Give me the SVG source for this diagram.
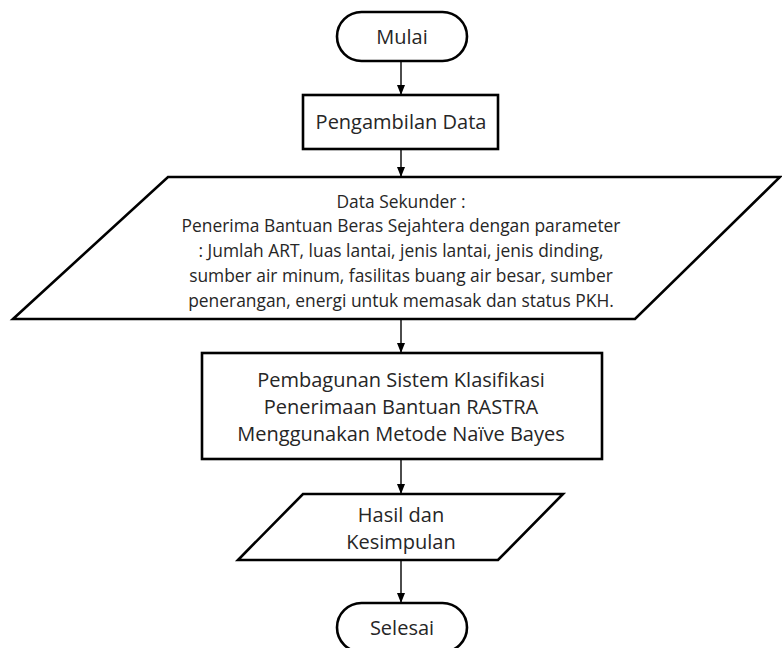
<svg xmlns="http://www.w3.org/2000/svg" width="782" height="648" viewBox="0 0 782 648">
<defs>
<style>
.shape{fill:#fff;stroke:#000;stroke-width:2.6}
.t{font-family:"Open Sans","Liberation Sans",sans-serif;fill:#262626;text-anchor:middle}
.s{font-size:17.4px}
.m{font-size:20px}
.line{stroke:#000;stroke-width:1.4;fill:none}
</style>
<marker id="ah" markerWidth="10" markerHeight="8" refX="9" refY="4" orient="auto" markerUnits="userSpaceOnUse">
<path d="M0,0 L10,4 L0,8 z" fill="#000"/>
</marker>
</defs>
<rect width="782" height="648" fill="#fff"/>
<g id="connectors">
<line class="line" x1="401" y1="61" x2="401" y2="94" marker-end="url(#ah)"/>
<line class="line" x1="401" y1="149" x2="401" y2="176" marker-end="url(#ah)"/>
<line class="line" x1="401" y1="319" x2="401" y2="352" marker-end="url(#ah)"/>
<line class="line" x1="401" y1="459" x2="401" y2="493" marker-end="url(#ah)"/>
<line class="line" x1="401" y1="560" x2="401" y2="602" marker-end="url(#ah)"/>
</g>
<g id="mulai">
<rect class="shape" x="337" y="12" width="130" height="49" rx="24.5"/>
<text class="t m" x="402" y="44">Mulai</text>
</g>
<g id="pengambilan">
<rect class="shape" x="303" y="95" width="195" height="54"/>
<text class="t m" x="401" y="129">Pengambilan Data</text>
</g>
<g id="data-sekunder">
<polygon class="shape" points="168,177 780,177 635,319 13,319"/>
<text class="t s" x="401" y="208">Data Sekunder :</text>
<text class="t s" x="401" y="232">Penerima Bantuan Beras Sejahtera dengan parameter</text>
<text class="t s" x="401" y="257">: Jumlah ART, luas lantai, jenis lantai, jenis dinding,</text>
<text class="t s" x="401" y="282">sumber air minum, fasilitas buang air besar, sumber</text>
<text class="t s" x="401" y="307">penerangan, energi untuk memasak dan status PKH.</text>
</g>
<g id="pembangunan">
<rect class="shape" x="202" y="353" width="400" height="106"/>
<text class="t m" x="401" y="387">Pembagunan Sistem Klasifikasi</text>
<text class="t m" x="401" y="414">Penerimaan Bantuan RASTRA</text>
<text class="t m" x="401" y="441">Menggunakan Metode Naïve Bayes</text>
</g>
<g id="hasil">
<polygon class="shape" points="303,494 563,494 498,560 238,560"/>
<text class="t m" x="401" y="522">Hasil dan</text>
<text class="t m" x="401" y="549">Kesimpulan</text>
</g>
<g id="selesai">
<rect class="shape" x="337" y="603" width="130" height="49" rx="24.5"/>
<text class="t m" x="402" y="635">Selesai</text>
</g>
</svg>
